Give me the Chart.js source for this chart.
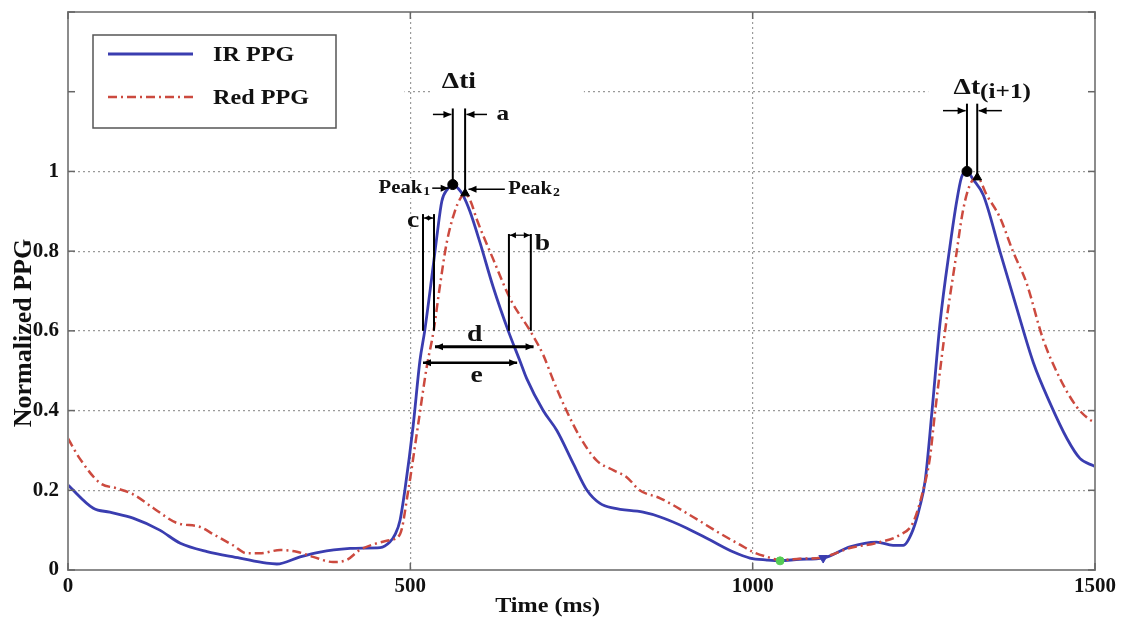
<!DOCTYPE html>
<html lang="en">
<head>
<meta charset="UTF-8" />
<title>Normalized PPG</title>
<script src="https://cdn.jsdelivr.net/npm/chart.js@4.4.0/dist/chart.umd.min.js"></script>
<style>
  html, body { margin: 0; padding: 0; background: #fff; }
  #wrap { width: 1121px; height: 619px; }
</style>
</head>
<body>
<div id="wrap"><canvas id="ppg" width="1121" height="619"></canvas></div>
<script>
// values (time in ms, normalized amplitude)
const irTime = [0, 37, 61, 95, 134, 164, 203, 251, 290, 305, 339, 368, 412, 431, 456, 470, 478, 485, 492, 504, 514, 521, 531, 539, 546, 554, 562, 570, 577, 587, 602, 621, 643, 660, 670, 694, 714, 738, 758, 777, 797, 840, 865, 904, 938, 972, 996, 1021, 1040, 1069, 1103, 1142, 1181, 1205, 1220, 1234, 1244, 1252, 1262, 1274, 1288, 1298, 1305, 1313, 1322, 1337, 1361, 1386, 1410, 1434, 1459, 1478, 1497, 1500];
const irValue = [0.213, 0.155, 0.145, 0.13, 0.10, 0.067, 0.046, 0.03, 0.017, 0.015, 0.033, 0.045, 0.054, 0.055, 0.056, 0.07, 0.09, 0.125, 0.2, 0.36, 0.525, 0.6, 0.73, 0.84, 0.925, 0.955, 0.967, 0.957, 0.94, 0.9, 0.82, 0.71, 0.6, 0.525, 0.48, 0.4, 0.35, 0.267, 0.2, 0.167, 0.155, 0.145, 0.133, 0.105, 0.075, 0.045, 0.03, 0.025, 0.023, 0.027, 0.03, 0.058, 0.07, 0.062, 0.062, 0.1, 0.158, 0.225, 0.4, 0.625, 0.81, 0.925, 0.985, 1.0, 0.98, 0.94, 0.8, 0.655, 0.52, 0.42, 0.33, 0.28, 0.262, 0.26];
const redTime = [0, 17, 47, 71, 95, 125, 159, 193, 212, 241, 261, 280, 310, 334, 358, 387, 407, 426, 451, 470, 485, 497, 511, 524, 534, 543, 553, 565, 574, 580, 588, 597, 621, 646, 675, 694, 709, 728, 748, 772, 797, 816, 835, 865, 913, 952, 982, 1001, 1021, 1040, 1069, 1103, 1142, 1181, 1215, 1234, 1249, 1259, 1266, 1283, 1296, 1307, 1317, 1328, 1342, 1361, 1380, 1400, 1424, 1449, 1473, 1490, 1500];
const redValue = [0.33, 0.28, 0.218, 0.205, 0.19, 0.155, 0.118, 0.108, 0.09, 0.062, 0.042, 0.042, 0.05, 0.046, 0.033, 0.02, 0.025, 0.05, 0.067, 0.075, 0.09, 0.2, 0.36, 0.51, 0.6, 0.71, 0.82, 0.9, 0.935, 0.945, 0.925, 0.88, 0.78, 0.68, 0.6, 0.54, 0.475, 0.4, 0.333, 0.275, 0.25, 0.233, 0.2, 0.18, 0.133, 0.092, 0.063, 0.045, 0.033, 0.025, 0.028, 0.032, 0.055, 0.068, 0.088, 0.118, 0.2, 0.283, 0.39, 0.625, 0.775, 0.9, 0.965, 0.985, 0.94, 0.885, 0.8, 0.72, 0.58, 0.48, 0.41, 0.38, 0.37];

// marked points
const irPeakTime = [562, 1313];
const irPeakValue = [0.967, 1.0];
const redPeakTime = [580, 1328];
const redPeakValue = [0.945, 0.985];
const footTime = [1040];
const footValue = [0.023];
const valleyTime = [1103];
const valleyValue = [0.03];

const xTicks = [0, 500, 1000, 1500];
const xLabels = ['0', '500', '1000', '1500'];
const yTicks = [0, 0.2, 0.4, 0.6, 0.8, 1, 1.2, 1.4];
const yLabels = ['0', '0.2', '0.4', '0.6', '0.8', '1', '', ''];

const SERIF = '"Liberation Serif", "Times New Roman", serif';
const BLUE = '#3a3db0';
const RED = '#cc4a3f';

function pts(ts, vs) { return ts.map((t, i) => ({ x: t, y: vs[i] })); }

function txt(ctx, s, x, y, size, align, sx) {
  ctx.save();
  ctx.translate(x, y);
  ctx.scale(sx || 1.15, 1);
  ctx.font = 'bold ' + size + 'px ' + SERIF;
  ctx.textAlign = align || 'left';
  ctx.textBaseline = 'middle';
  ctx.fillStyle = '#111';
  ctx.fillText(s, 0, 0);
  ctx.restore();
}
function txtW(ctx, s, size, sx) {
  ctx.save();
  ctx.font = 'bold ' + size + 'px ' + SERIF;
  const w = ctx.measureText(s).width * (sx || 1.15);
  ctx.restore();
  return w;
}
function head(ctx, x, y, dx, dy, len, half) {
  ctx.beginPath();
  ctx.moveTo(x, y);
  ctx.lineTo(x - dx * len - dy * half, y - dy * len + dx * half);
  ctx.lineTo(x - dx * len + dy * half, y - dy * len - dx * half);
  ctx.closePath();
  ctx.fill();
}
function seg(ctx, x1, y1, x2, y2, lw) {
  ctx.lineWidth = lw;
  ctx.beginPath();
  ctx.moveTo(x1, y1);
  ctx.lineTo(x2, y2);
  ctx.stroke();
}
function arrow(ctx, x1, y1, x2, y2, lw, both) {
  const L = Math.hypot(x2 - x1, y2 - y1), dx = (x2 - x1) / L, dy = (y2 - y1) / L;
  seg(ctx, x1, y1, x2, y2, lw);
  head(ctx, x2, y2, dx, dy, 8, 3.5);
  if (both) head(ctx, x1, y1, -dx, -dy, 8, 3.5);
}

// gridlines, frame, inner ticks, legend, titles and the timing marks
const decor = {
  id: 'decor',
  beforeDatasetsDraw(chart) {
    const { ctx, chartArea: a, scales: { x, y } } = chart;
    const px = t => x.getPixelForValue(t), py = v => y.getPixelForValue(v);
    ctx.save();
    ctx.fillStyle = '#fff';
    // label areas cover the dotted grid in the original
    [[0, 490, 1.09, 1.4], [528, 752, 1.17, 1.235], [1255, 1499, 1.17, 1.235]].forEach(m => {
      ctx.fillRect(px(m[0]) + 1, py(m[3]), px(m[1]) - px(m[0]), py(m[2]) - py(m[3]));
    });
    const w = txtW(ctx, 'Peak', 18) + txtW(ctx, '1', 12) + 6;
    ctx.fillRect(px(529) - w, py(0.958) - 10, w + 2, 20);
    ctx.restore();
  },
  afterDraw(chart) {
    const { ctx, chartArea: a, scales: { x, y } } = chart;
    const px = t => x.getPixelForValue(t), py = v => y.getPixelForValue(v);
    ctx.save();
    // frame
    ctx.strokeStyle = '#8c8c8c';
    ctx.lineWidth = 2;
    ctx.strokeRect(a.left, a.top, a.right - a.left, a.bottom - a.top);
    ctx.strokeStyle = '#666';
    ctx.lineWidth = 1.5;
    xTicks.forEach(t => {
      seg(ctx, px(t), a.bottom, px(t), a.bottom - 7, 1.5);
      seg(ctx, px(t), a.top, px(t), a.top + 7, 1.5);
    });
    yTicks.forEach(v => {
      seg(ctx, a.left, py(v), a.left + 7, py(v), 1.5);
      seg(ctx, a.right, py(v), a.right - 7, py(v), 1.5);
    });

    // axis titles
    txt(ctx, 'Time (ms)', a.left + (a.right - a.left) * 0.467, 607, 21, 'center');
    ctx.save();
    ctx.translate(24, (a.top + a.bottom) / 2 + 42);
    ctx.rotate(-Math.PI / 2);
    txt(ctx, 'Normalized PPG', 0, 0, 26, 'center', 1.0);
    ctx.restore();

    // timing marks
    ctx.strokeStyle = '#000';
    ctx.fillStyle = '#000';
    // delta t_i
    seg(ctx, px(562), py(0.967), px(562), py(1.158), 2);
    seg(ctx, px(580), py(0.945), px(580), py(1.158), 2);
    arrow(ctx, px(533), py(1.143), px(560), py(1.143), 1.5);
    arrow(ctx, px(612), py(1.143), px(582), py(1.143), 1.5);
    txt(ctx, '\u0394ti', px(571), py(1.225), 24, 'center');
    txt(ctx, 'a', px(635), py(1.143), 22, 'center');
    // peak labels
    arrow(ctx, px(532), py(0.958), px(556), py(0.958), 1.5);
    arrow(ctx, px(638), py(0.955), px(585), py(0.955), 1.5);
    let wS = txtW(ctx, '1', 12), wP = txtW(ctx, 'Peak', 18);
    txt(ctx, 'Peak', px(529) - wS - wP - 1, py(0.958), 18, 'left');
    txt(ctx, '1', px(529) - wS, py(0.958) + 4, 12, 'left');
    wP = txtW(ctx, 'Peak', 18);
    txt(ctx, 'Peak', px(643), py(0.955), 18, 'left');
    txt(ctx, '2', px(643) + wP + 1, py(0.955) + 4, 12, 'left');
    // c
    seg(ctx, px(518.5), py(0.6), px(518.5), py(0.893), 2);
    seg(ctx, px(534.6), py(0.6), px(534.6), py(0.893), 2);
    seg(ctx, px(518.5), py(0.883), px(534.6), py(0.883), 1.2);
    head(ctx, px(534.6) - 1, py(0.883), 1, 0, 5, 2.5);
    head(ctx, px(518.5) + 1, py(0.883), -1, 0, 5, 2.5);
    txt(ctx, 'c', px(504), py(0.877), 24, 'center');
    // b
    seg(ctx, px(644), py(0.6), px(644), py(0.843), 2);
    seg(ctx, px(676), py(0.6), px(676), py(0.843), 2);
    seg(ctx, px(644), py(0.84), px(676), py(0.84), 1.2);
    head(ctx, px(676) - 1, py(0.84), 1, 0, 6, 3);
    head(ctx, px(644) + 1, py(0.84), -1, 0, 6, 3);
    txt(ctx, 'b', px(693), py(0.818), 24, 'center');
    // d and e
    arrow(ctx, px(536), py(0.56), px(680), py(0.56), 3, true);
    txt(ctx, 'd', px(594), py(0.59), 24, 'center');
    arrow(ctx, px(518.5), py(0.52), px(656), py(0.52), 2.5, true);
    txt(ctx, 'e', px(597), py(0.487), 24, 'center');
    // delta t_(i+1)
    seg(ctx, px(1313), py(1.0), px(1313), py(1.17), 2);
    seg(ctx, px(1328), py(0.985), px(1328), py(1.17), 2);
    arrow(ctx, px(1278), py(1.1525), px(1311), py(1.1525), 1.5);
    arrow(ctx, px(1364), py(1.1525), px(1330), py(1.1525), 1.5);
    const wD = txtW(ctx, '\u0394t', 24), wI = txtW(ctx, '(i+1)', 22);
    const x0 = px(1350) - (wD + wI) / 2;
    txt(ctx, '\u0394t', x0, py(1.21), 24, 'left');
    txt(ctx, '(i+1)', x0 + wD, py(1.21) + 5, 22, 'left');

    // legend
    const lx = a.left + 25, ly = a.top + 23, lw = 243, lh = 93;
    ctx.fillStyle = '#fff';
    ctx.fillRect(lx, ly, lw, lh);
    ctx.strokeStyle = '#555';
    ctx.lineWidth = 1.5;
    ctx.strokeRect(lx, ly, lw, lh);
    ['IR PPG', 'Red PPG'].forEach((name, i) => {
      const ds = chart.data.datasets.find(d => d.label === name);
      const yy = ly + 19 + i * 43;
      ctx.strokeStyle = ds.borderColor;
      ctx.lineWidth = ds.borderWidth;
      ctx.setLineDash(ds.borderDash || []);
      seg(ctx, lx + 15, yy, lx + 100, yy, ds.borderWidth);
      ctx.setLineDash([]);
      txt(ctx, name, lx + 120, yy + 2, 21, 'left');
    });
    ctx.restore();
  }
};

new Chart(document.getElementById('ppg'), {
  type: 'line',
  data: {
    datasets: [
      { label: 'ir peaks', data: pts(irPeakTime, irPeakValue), showLine: false, pointStyle: 'circle', pointRadius: 5, pointBackgroundColor: '#000', pointBorderColor: '#000', order: 0 },
      { label: 'red peaks', data: pts(redPeakTime, redPeakValue), showLine: false, pointStyle: 'triangle', pointRadius: 5, pointBackgroundColor: '#000', pointBorderColor: '#000', order: 0 },
      { label: 'foot', data: pts(footTime, footValue), showLine: false, pointStyle: 'circle', pointRadius: 4, pointBackgroundColor: '#55cc55', pointBorderColor: '#55cc55', order: 0 },
      { label: 'valley', data: pts(valleyTime, valleyValue), showLine: false, pointStyle: 'triangle', rotation: 180, pointRadius: 5, pointBackgroundColor: BLUE, pointBorderColor: BLUE, order: 0 },
      { label: 'Red PPG', data: pts(redTime, redValue), borderColor: RED, borderWidth: 2.5, borderDash: [9, 4, 2, 4], pointRadius: 0, cubicInterpolationMode: 'monotone', order: 1 },
      { label: 'IR PPG', data: pts(irTime, irValue), borderColor: BLUE, borderWidth: 2.8, pointRadius: 0, cubicInterpolationMode: 'monotone', order: 2 }
    ]
  },
  options: {
    responsive: false,
    animation: false,
    devicePixelRatio: 1,
    layout: { padding: { left: 0, right: 26, top: 12, bottom: 0 } },
    plugins: { legend: { display: false }, tooltip: { enabled: false } },
    scales: {
      x: {
        type: 'linear',
        min: 0,
        max: 1500,
        afterBuildTicks: s => { s.ticks = xTicks.map(v => ({ value: v })); },
        afterFit: s => { s.height = 49; },
        ticks: {
          autoSkip: false,
          maxRotation: 0,
          padding: 4,
          color: '#111',
          font: { family: SERIF, size: 21, weight: 'bold' },
          callback: (v, i) => xLabels[i]
        },
        grid: {
          drawTicks: false,
          lineWidth: 1.2,
          color: c => (c.tick && c.tick.value > 0 && c.tick.value < 1500) ? '#9a9a9a' : 'rgba(0,0,0,0)'
        },
        border: { display: false, dash: [2, 3] }
      },
      y: {
        min: 0,
        max: 1.4,
        afterBuildTicks: s => { s.ticks = yTicks.map(v => ({ value: v })); },
        afterFit: s => { s.width = 68; s.paddingTop = 0; s.paddingBottom = 0; },
        ticks: {
          autoSkip: false,
          padding: 9,
          color: '#111',
          font: { family: SERIF, size: 21, weight: 'bold' },
          callback: (v, i) => yLabels[i]
        },
        grid: {
          drawTicks: false,
          lineWidth: 1.2,
          color: c => (c.tick && c.tick.value > 0 && c.tick.value < 1.39) ? '#9a9a9a' : 'rgba(0,0,0,0)'
        },
        border: { display: false, dash: [2, 3] }
      }
    }
  },
  plugins: [decor]
});
</script>
</body>
</html>
